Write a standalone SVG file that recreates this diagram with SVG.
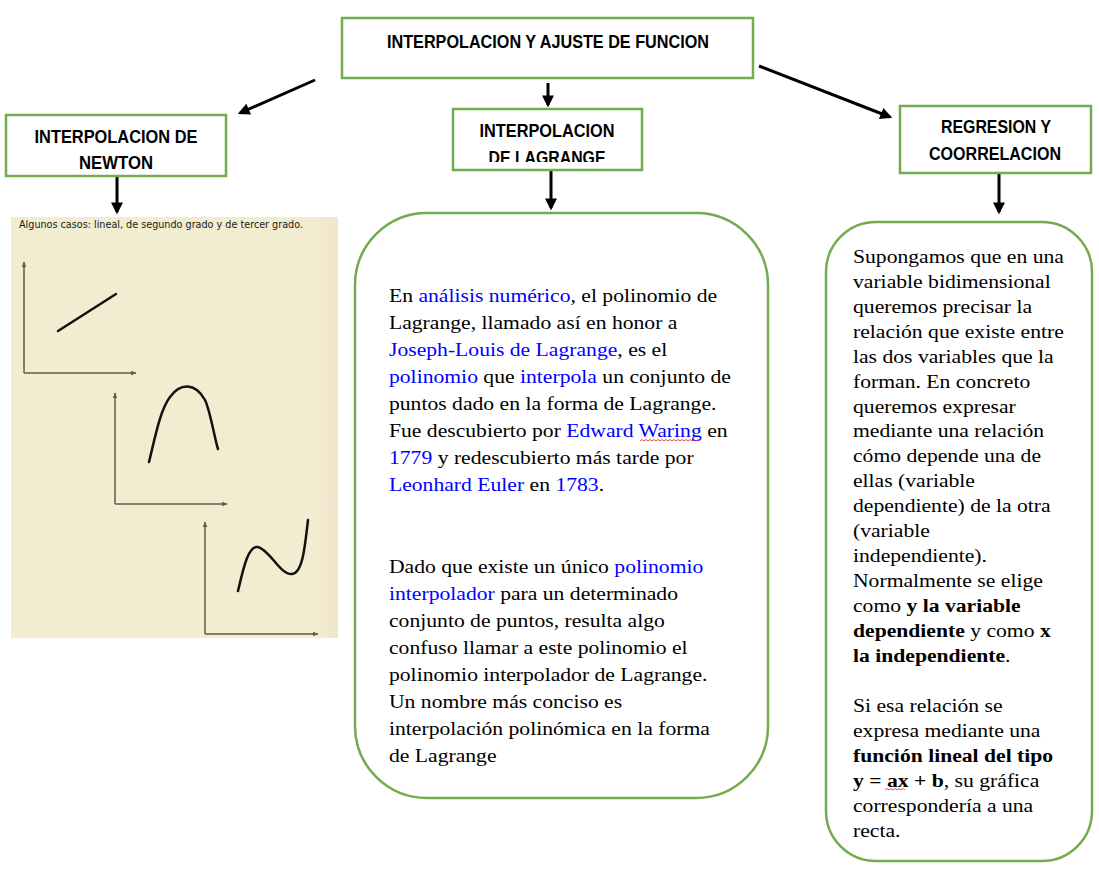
<svg xmlns="http://www.w3.org/2000/svg" width="1099" height="873" viewBox="0 0 1099 873">
<style>
.box{fill:#fff;stroke:#72ac4d;stroke-width:2.5}
.hd{font-family:"Liberation Sans",Arial,sans-serif;font-weight:bold;font-size:17.5px;fill:#000;text-anchor:middle}
.tx{font-family:"Liberation Serif","Times New Roman",serif;font-size:19.5px;fill:#000}
.lk{fill:#0000ff}
.b{font-weight:bold}
.con{stroke:#000;stroke-width:3;fill:none;marker-end:url(#ah)}
.ax{stroke:#5e5e4a;stroke-width:1.5;fill:none}
.cv{stroke:#111;stroke-width:2.5;fill:none;stroke-linecap:round}
.wv{stroke:#e02020;stroke-width:0.8;fill:none}
</style>
<defs>
<marker id="ah" viewBox="0 0 10 10" refX="8" refY="5" markerWidth="4" markerHeight="4" orient="auto" markerUnits="strokeWidth">
<path d="M0,0 L10,5 L0,10 z" fill="#000"/>
</marker>
<marker id="sa" viewBox="0 0 10 10" refX="9" refY="5" markerWidth="4" markerHeight="4" orient="auto" markerUnits="strokeWidth">
<path d="M0,1 L10,5 L0,9 z" fill="#5e5e4a"/>
</marker>
<clipPath id="clipLag"><rect x="453" y="109" width="189" height="53"/></clipPath>
<linearGradient id="pg" x1="0" y1="0" x2="1" y2="0">
<stop offset="0" stop-color="#f2ecd0"/>
<stop offset="0.94" stop-color="#f2ecd0"/>
<stop offset="1" stop-color="#f1e4cd"/>
</linearGradient>
</defs>
<rect width="1099" height="873" fill="#fff"/>

<g id="connectors">
<line class="con" x1="315" y1="80" x2="240" y2="113"/>
<line class="con" x1="548" y1="83" x2="548" y2="105"/>
<line class="con" x1="759" y1="66" x2="890" y2="117"/>
<line class="con" x1="117" y1="175" x2="117" y2="212"/>
<line class="con" x1="551" y1="169" x2="551" y2="208"/>
<line class="con" x1="999" y1="174" x2="999" y2="212"/>
</g>

<g id="node-root">
<rect class="box" x="342" y="18" width="411" height="60"/>
<text class="hd" x="548" y="48" textLength="322" lengthAdjust="spacingAndGlyphs">INTERPOLACION Y AJUSTE DE FUNCION</text>
</g>

<g id="node-newton">
<rect class="box" x="6" y="115" width="220" height="61"/>
<text class="hd" x="116" y="143" textLength="163" lengthAdjust="spacingAndGlyphs">INTERPOLACION DE</text>
<text class="hd" x="116" y="169" textLength="74" lengthAdjust="spacingAndGlyphs">NEWTON</text>
</g>

<g id="node-lagrange">
<rect class="box" x="453" y="109" width="189" height="61"/>
<g clip-path="url(#clipLag)">
<text class="hd" x="547" y="137" textLength="135" lengthAdjust="spacingAndGlyphs">INTERPOLACION</text>
<text class="hd" x="547" y="164" textLength="117" lengthAdjust="spacingAndGlyphs">DE LAGRANGE</text>
</g>
</g>

<g id="node-regresion">
<rect class="box" x="900" y="106" width="191" height="67"/>
<text class="hd" x="996" y="133" textLength="110" lengthAdjust="spacingAndGlyphs">REGRESION Y</text>
<text class="hd" x="995" y="160" textLength="132" lengthAdjust="spacingAndGlyphs">COORRELACION</text>
</g>

<g id="node-newton-image">
<rect x="11" y="217" width="327" height="421" fill="url(#pg)"/>
<text x="19" y="228" font-family="'DejaVu Sans',Verdana,sans-serif" font-size="10.5" fill="#1a1a1a" textLength="284" lengthAdjust="spacingAndGlyphs">Algunos casos: lineal, de segundo grado y de tercer grado.</text>
<polyline class="ax" points="24,373 24,262" marker-end="url(#sa)"/>
<polyline class="ax" points="24,373 136,373" marker-end="url(#sa)"/>
<line class="cv" x1="58" y1="331" x2="116" y2="294"/>
<polyline class="ax" points="115,504 115,393" marker-end="url(#sa)"/>
<polyline class="ax" points="115,504 227,504" marker-end="url(#sa)"/>
<path class="cv" d="M149,462 C155,438 160,410 170,397 C180,383 195,382 205,400 C210,410 215,440 218,449"/>
<polyline class="ax" points="205,634 205,522" marker-end="url(#sa)"/>
<polyline class="ax" points="205,634 318,634" marker-end="url(#sa)"/>
<path class="cv" d="M238,591 C243,570 248,545 258,547 C270,550 280,575 292,574 C303,573 305,545 308,520"/>
</g>

<g id="node-lagrange-text">
<rect class="box" x="355" y="213" width="413" height="585" rx="72" ry="72"/>
<g transform="translate(389,0) scale(1.11,1) translate(-389,0)">
<text class="tx">
<tspan x="389" y="302">En <tspan class="lk">análisis numérico</tspan>, el polinomio de</tspan>
<tspan x="389" y="329">Lagrange, llamado así en honor a</tspan>
<tspan x="389" y="356"><tspan class="lk">Joseph-Louis de Lagrange</tspan>, es el</tspan>
<tspan x="389" y="383"><tspan class="lk">polinomio</tspan> que <tspan class="lk">interpola</tspan> un conjunto de</tspan>
<tspan x="389" y="410">puntos dado en la forma de Lagrange.</tspan>
<tspan x="389" y="437">Fue descubierto por <tspan class="lk">Edward Waring</tspan> en</tspan>
<tspan x="389" y="464"><tspan class="lk">1779</tspan> y redescubierto más tarde por</tspan>
<tspan x="389" y="491"><tspan class="lk">Leonhard Euler</tspan> en <tspan class="lk">1783</tspan>.</tspan>
</text>
<text class="tx">
<tspan x="389" y="573">Dado que existe un único <tspan class="lk">polinomio</tspan></tspan>
<tspan x="389" y="600"><tspan class="lk">interpolador</tspan> para un determinado</tspan>
<tspan x="389" y="627">conjunto de puntos, resulta algo</tspan>
<tspan x="389" y="654">confuso llamar a este polinomio el</tspan>
<tspan x="389" y="681">polinomio interpolador de Lagrange.</tspan>
<tspan x="389" y="708">Un nombre más conciso es</tspan>
<tspan x="389" y="735">interpolación polinómica en la forma</tspan>
<tspan x="389" y="762">de Lagrange</tspan>
</text>
</g>
<path class="wv" d="M640,441 l2,-1.5 l2,1.5 l2,-1.5 l2,1.5 l2,-1.5 l2,1.5 l2,-1.5 l2,1.5 l2,-1.5 l2,1.5 l2,-1.5 l2,1.5 l2,-1.5 l2,1.5 l2,-1.5 l2,1.5 l2,-1.5 l2,1.5 l2,-1.5 l2,1.5 l2,-1.5 l2,1.5 l2,-1.5 l2,1.5 l2,-1.5 l2,1.5 l2,-1.5 l2,1.5 l2,-1.5 l2,1.5"/>
</g>

<g id="node-regresion-text">
<rect class="box" x="826" y="222" width="266" height="639" rx="50" ry="50"/>
<g transform="translate(853,0) scale(1.11,1) translate(-853,0)">
<text class="tx">
<tspan x="853" y="263">Supongamos que en una</tspan>
<tspan x="853" y="288">variable bidimensional</tspan>
<tspan x="853" y="313">queremos precisar la</tspan>
<tspan x="853" y="338">relación que existe entre</tspan>
<tspan x="853" y="363">las dos variables que la</tspan>
<tspan x="853" y="388">forman. En concreto</tspan>
<tspan x="853" y="413">queremos expresar</tspan>
<tspan x="853" y="437">mediante una relación</tspan>
<tspan x="853" y="462">cómo depende una de</tspan>
<tspan x="853" y="487">ellas (variable</tspan>
<tspan x="853" y="512">dependiente) de la otra</tspan>
<tspan x="853" y="537">(variable</tspan>
<tspan x="853" y="562">independiente).</tspan>
<tspan x="853" y="587">Normalmente se elige</tspan>
<tspan x="853" y="612">como <tspan class="b">y la variable</tspan></tspan>
<tspan x="853" y="637"><tspan class="b">dependiente</tspan> y como <tspan class="b">x</tspan></tspan>
<tspan x="853" y="662"><tspan class="b">la independiente</tspan>.</tspan>
<tspan x="853" y="712">Si esa relación se</tspan>
<tspan x="853" y="737">expresa mediante una</tspan>
<tspan x="853" y="762"><tspan class="b">función lineal del tipo</tspan></tspan>
<tspan x="853" y="787"><tspan class="b">y = ax + b</tspan>, su gráfica</tspan>
<tspan x="853" y="812">correspondería a una</tspan>
<tspan x="853" y="837">recta.</tspan>
</text>
</g>
<path class="wv" d="M885,790 l2,-1.5 l2,1.5 l2,-1.5 l2,1.5 l2,-1.5 l2,1.5 l2,-1.5 l2,1.5 l2,-1.5 l2,1.5"/>
</g>
</svg>
